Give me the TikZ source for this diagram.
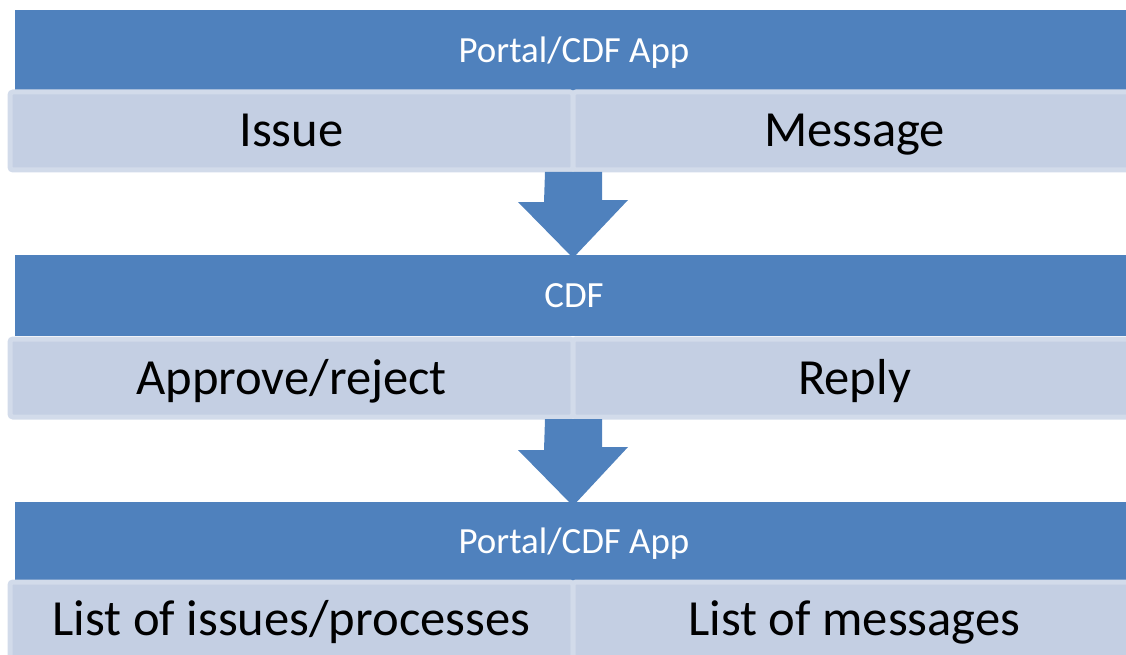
\documentclass[tikz,border=0pt]{standalone}
\usepackage{fontspec}
\setmainfont{Carlito}
\definecolor{barblue}{HTML}{4F81BD}
\definecolor{cellfill}{HTML}{C4CFE3}
\definecolor{celledge}{HTML}{D2DBEA}
\tikzset{
  bluebar/.style={fill=barblue, draw=none, anchor=north west, inner sep=0pt,
    outer sep=0pt, minimum width=1118pt, minimum height=81pt, text=white,
    text height=24pt, text depth=0pt,
    font=\fontsize{36.9}{40}\selectfont},
  cell/.style={fill=cellfill, draw=celledge, line width=5pt, rounded corners=3pt,
    anchor=north west, inner sep=0pt, outer sep=0pt, minimum height=#1,
    minimum width=563pt, text=black, text height=32pt, text depth=0pt,
    font=\fontsize{50.6}{54}\selectfont},
  blockarrow/.style={fill=barblue, draw=none}
}
\begin{document}
\begin{tikzpicture}[x=1pt,y=-1pt]
\useasboundingbox (0,0) rectangle (1126,655);
\begin{scope}
\clip (0,0) rectangle (1126,655);
% row 1
\node[bluebar] (b1) at (15,10) {Portal/CDF App};
\node[cell=78pt] (l1) at (10,92) {Issue};
\node[cell=78pt] (r1) at (573,92) {Message};
% row 2
\node[bluebar] (b2) at (15,255) {CDF};
\node[cell=78pt] (l2) at (10,339) {Approve/reject};
\node[cell=78pt] (r2) at (573,339) {Reply};
% row 3
\node[bluebar, minimum height=79pt] (b3) at (15,502) {Portal/CDF App};
\node[cell=90pt, text depth=16pt] (l3) at (10,582) {List of issues/processes};
\node[cell=90pt, text depth=16pt] (r3) at (573,582) {List of messages};
% arrows
\coordinate (a1) at ([yshift=-2pt]l1.south east);
\coordinate (a2) at ([yshift=-2pt]l2.south east);
\fill[blockarrow] ([xshift=-28pt]a1) -- ([xshift=29pt]a1) -- ++(0,28) -- ++(26,0)
  -- ([yshift=-3pt]b2.north -| a1) -- ++(-55,-56) -- ++(26,0) -- cycle;
\fill[blockarrow] ([xshift=-28pt]a2) -- ([xshift=29pt]a2) -- ++(0,28) -- ++(26,0)
  -- ([yshift=-4pt]b3.north -| a2) -- ++(-55,-56) -- ++(26,0) -- cycle;
\end{scope}
\end{tikzpicture}
\end{document}
